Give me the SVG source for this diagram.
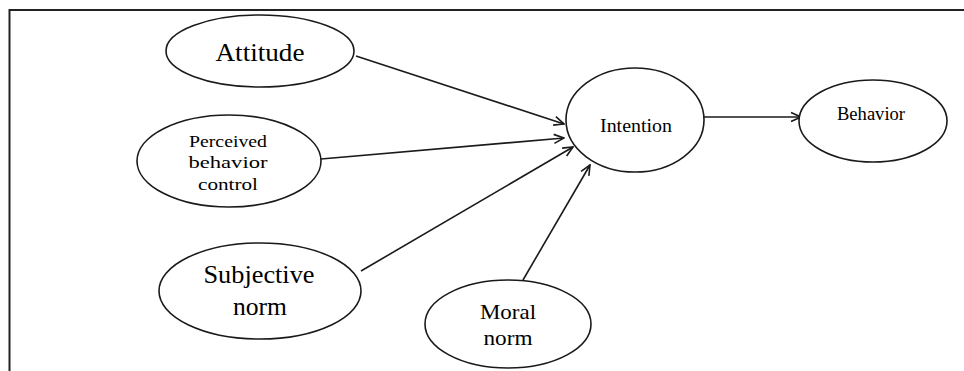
<svg xmlns="http://www.w3.org/2000/svg" width="964" height="371" viewBox="0 0 964 371">
  <style>
    .node ellipse { fill: #ffffff; stroke: #1a1a1a; stroke-width: 1.6; }
    .node text { fill: #000; text-anchor: middle; }
    .edge { fill: none; stroke: #1a1a1a; stroke-width: 1.6; marker-end: url(#arrow); }
    .frame { fill: none; stroke: #222; stroke-width: 2; }
  </style>
  <defs>
    <marker id="arrow" viewBox="0 0 12 12" refX="11" refY="6" markerWidth="12" markerHeight="12" markerUnits="userSpaceOnUse" orient="auto">
      <polyline points="1,1.5 11,6 1,10.5" fill="none" stroke="#1a1a1a" stroke-width="1.6"/>
    </marker>
  </defs>

  <rect width="964" height="371" fill="#ffffff"/>
  <!-- frame -->
  <path class="frame" d="M9.5,371 V10 H964"/>

  <!-- connectors -->
  <g id="connectors">
    <line class="edge" x1="356" y1="56" x2="564" y2="124"/>
    <line class="edge" x1="321" y1="159" x2="564" y2="138"/>
    <line class="edge" x1="361" y1="271" x2="573" y2="147"/>
    <line class="edge" x1="523" y1="280" x2="590" y2="165"/>
    <line class="edge" x1="704" y1="117" x2="801" y2="117"/>
  </g>

  <g id="nodes" font-family="'Liberation Serif', 'Times New Roman', 'DejaVu Serif', serif">
    <g id="attitude" class="node">
      <ellipse cx="260" cy="51" rx="94" ry="36"/>
      <text x="260" y="61" font-size="26" textLength="89" lengthAdjust="spacingAndGlyphs">Attitude</text>
    </g>

    <g id="perceived" class="node">
      <ellipse cx="229" cy="161" rx="92" ry="46"/>
      <text x="228" y="147" font-size="17" textLength="78" lengthAdjust="spacingAndGlyphs">Perceived</text>
      <text x="228" y="168" font-size="17" textLength="79" lengthAdjust="spacingAndGlyphs">behavior</text>
      <text x="228" y="190" font-size="17" textLength="60" lengthAdjust="spacingAndGlyphs">control</text>
    </g>

    <g id="subjective" class="node">
      <ellipse cx="260" cy="291" rx="101" ry="48"/>
      <text x="259" y="283" font-size="26" textLength="111" lengthAdjust="spacingAndGlyphs">Subjective</text>
      <text x="260" y="315" font-size="26" textLength="54" lengthAdjust="spacingAndGlyphs">norm</text>
    </g>

    <g id="moral" class="node">
      <ellipse cx="508" cy="324" rx="83" ry="44"/>
      <text x="508" y="319" font-size="22" textLength="56" lengthAdjust="spacingAndGlyphs">Moral</text>
      <text x="508" y="345" font-size="22" textLength="49" lengthAdjust="spacingAndGlyphs">norm</text>
    </g>

    <g id="intention" class="node">
      <ellipse cx="635" cy="120" rx="69" ry="52"/>
      <text x="636" y="132" font-size="18" textLength="72" lengthAdjust="spacingAndGlyphs">Intention</text>
    </g>

    <g id="behavior" class="node">
      <ellipse cx="873" cy="121" rx="74" ry="41"/>
      <text x="871" y="120" font-size="18" textLength="68" lengthAdjust="spacingAndGlyphs">Behavior</text>
    </g>
  </g>
</svg>
